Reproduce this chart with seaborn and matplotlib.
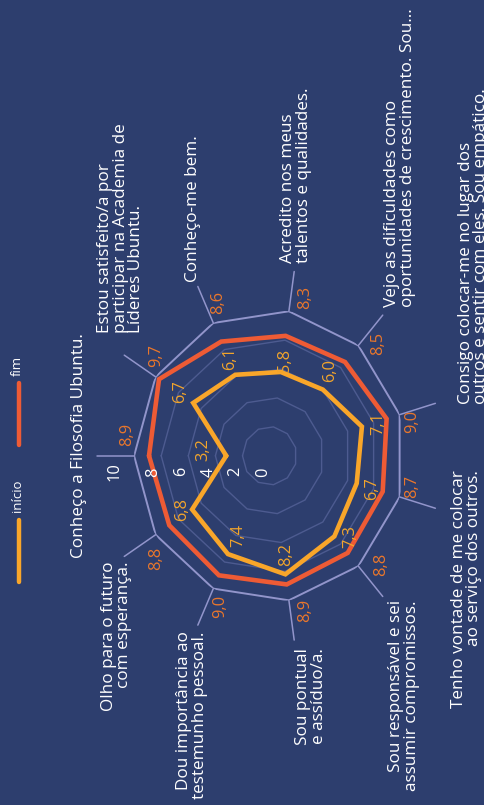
import numpy as np
import pandas as pd
import matplotlib
matplotlib.use("Agg")
import matplotlib.pyplot as plt
from matplotlib.lines import Line2D
import seaborn as sns

# ---------------- data ----------------
categories = [
    "Conheço a Filosofia Ubuntu.",
    "Estou satisfeito/a por\nparticipar na Academia de\nLíderes Ubuntu.",
    "Conheço-me bem.",
    "Acredito nos meus\ntalentos e qualidades.",
    "Vejo as dificuldades como\noportunidades de crescimento. Sou...",
    "Consigo colocar-me no lugar dos\noutros e sentir com eles. Sou empático.",
    "Tenho vontade de me colocar\nao serviço dos outros.",
    "Sou responsável e sei\nassumir compromissos.",
    "Sou pontual\ne assíduo/a.",
    "Dou importância ao\ntestemunho pessoal.",
    "Olho para o futuro\ncom esperança.",
]
inicio = [3.2, 6.7, 6.1, 5.8, 6.0, 7.1, 6.7, 7.3, 8.2, 7.4, 6.8]
fim = [8.9, 9.7, 8.6, 8.3, 8.5, 9.0, 8.7, 8.8, 8.9, 9.0, 8.8]
series_names = ["início", "fim"]
grid_levels = [2, 4, 6, 8, 10]
tick_values = [0, 2, 4, 6, 8, 10]
tick_labels = ["0", "2", "4", "6", "8", "10"]

# ---------------- style / layout ----------------
BG = "#2d3e6e"
C_INI = "#f9a62a"
C_FIM = "#ee5b35"
C_INI_TXT = "#f2a52c"
C_FIM_TXT = "#ea772c"
C_OUTER = "#9295cb"
C_INNER = "#4d5b90"
W, H = 485, 805

# per-label pixel offsets (rotated picture frame; +dy is up)
ini_off = [(-23, 6), (-13, 11), (-5, 16), (4, 12), (7, 19), (16, 3),
           (15, -5), (16, 0), (1, 20), (10, 19), (-10, 0)]
fim_off = [(-7, 21), (1, 21), (5, 20), (16, 14), (20, 2), (13, -7),
           (13, 10), (23, 2), (16, -10), (7, -18), (1, -24)]
cat_off = [(-55, 10), (-35, 44), (-20, 41), (7, 48), (42, 38), (74, 11),
           (67, 27), (46, -34), (22, -48), (-21, -43), (-39, -27)]
cat_align = ["center", "left", "left", "left", "left", "left",
             "right", "right", "right", "right", "right"]
tick_off = [(-6, -16), (-7, -16), (-7, -16), (-7, -16), (-8, -16), (-20, -16)]

sns.set_theme(style="white")
plt.rcParams["font.family"] = ["Open Sans", "DejaVu Sans"]

fig = plt.figure(figsize=(W / 100, H / 100), dpi=100, facecolor=BG)

cx, cy, rx, ry = 269.6, 455.8, 135.5, 146.0
ax = fig.add_axes([(cx - rx) / W, (H - cy - ry) / H, 2 * rx / W, 2 * ry / H],
                  projection="polar")
ax.set_aspect("auto")
ax.set_facecolor("none")
ax.set_theta_zero_location("W")
ax.set_theta_direction(-1)
ax.set_ylim(0, 10)
ax.grid(False)
ax.spines["polar"].set_visible(False)
ax.set_xticks([])
ax.set_yticks([])

n = len(categories)
theta = np.arange(n) * 2 * np.pi / n
theta_c = np.append(theta, theta[0])
rmax = grid_levels[-1]

# grid polygons
for lv in grid_levels:
    outer = lv == rmax
    ax.plot(theta_c, np.full(n + 1, lv), color=C_OUTER if outer else C_INNER,
            lw=1.4 if outer else 1.0, zorder=1)
# spokes outside outer ring
for t in theta:
    ax.plot([t, t], [rmax, rmax + 2.75], color=C_OUTER, lw=1.1,
            clip_on=False, zorder=1)

# series
df = pd.DataFrame({
    "theta": np.concatenate([theta_c, theta_c]),
    "valor": np.concatenate([np.append(inicio, inicio[0]), np.append(fim, fim[0])]),
    "serie": [series_names[0]] * (n + 1) + [series_names[1]] * (n + 1),
})
sns.lineplot(data=df, x="theta", y="valor", hue="serie", sort=False,
             estimator=None, palette={series_names[0]: C_INI, series_names[1]: C_FIM},
             linewidth=3.3, legend=False, ax=ax, zorder=3)
for l in ax.lines[-2:]:
    l.set_solid_joinstyle("miter")
ax.set_xlabel("")
ax.set_ylabel("")
ax.set_ylim(0, 10)

fmt = lambda v: f"{v:.1f}".replace(".", ",")

# value labels
for i in range(n):
    ax.annotate(fmt(inicio[i]), xy=(theta[i], inicio[i]), xytext=ini_off[i],
                textcoords="offset pixels", rotation=90, rotation_mode="anchor",
                ha="center", va="center", color=C_INI_TXT, fontsize=11.8,
                annotation_clip=False, zorder=5)
    ax.annotate(fmt(fim[i]), xy=(theta[i], rmax), xytext=fim_off[i],
                textcoords="offset pixels", rotation=90, rotation_mode="anchor",
                ha="center", va="center", color=C_FIM_TXT, fontsize=11.8,
                annotation_clip=False, zorder=5)
    ax.annotate(categories[i], xy=(theta[i], rmax), xytext=cat_off[i],
                textcoords="offset pixels", rotation=90, rotation_mode="anchor",
                ha=cat_align[i], va="center", multialignment=cat_align[i],
                color="white", fontsize=12.3, linespacing=0.98,
                annotation_clip=False, zorder=5)

# radial tick labels
for v, s, off in zip(tick_values, tick_labels, tick_off):
    ax.annotate(s, xy=(0, v), xytext=off, textcoords="offset pixels",
                rotation=90, rotation_mode="anchor", ha="center", va="center",
                color="white", fontsize=11.8, annotation_clip=False, zorder=5)

# legend (rotated)
leg = [(series_names[0], C_INI, 520, 582, 496), (series_names[1], C_FIM, 383, 445, 366)]
for name, col, y1, y2, ty in leg:
    fig.add_artist(Line2D([18.7 / W, 18.7 / W], [1 - y1 / H, 1 - y2 / H],
                          transform=fig.transFigure, color=col, lw=3.2,
                          solid_capstyle="round"))
    fig.text(17.5 / W, 1 - ty / H, name, rotation=90, rotation_mode="anchor",
             ha="center", va="center", color="white", fontsize=9.5)

fig.savefig("out.png", dpi=100, facecolor=BG)
